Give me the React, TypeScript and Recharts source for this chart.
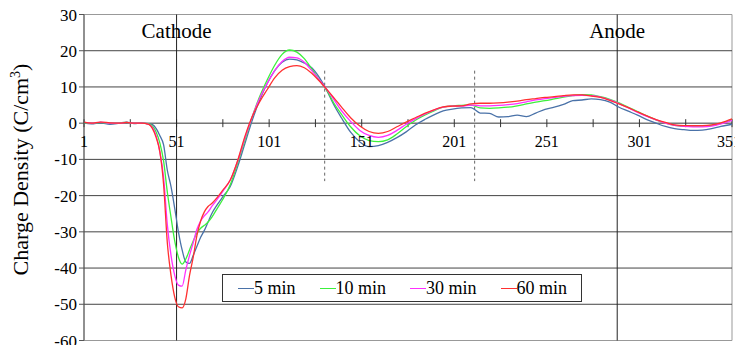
import { LineChart, Line, XAxis, YAxis, ReferenceLine, ReferenceDot, ReferenceArea } from "recharts"

const FONT = "Liberation Serif, Times New Roman, serif"

// position along the cell (1..351)
const xPos = [
  1, 5, 10, 15, 20, 24, 28, 32, 36, 38, 40, 42, 44, 46, 48, 50, 52, 54, 56, 58,
  60, 62, 64, 66, 68, 70, 73, 76, 80, 84, 88, 92, 96, 100, 104, 108, 112, 116, 120, 124,
  128, 132, 136, 140, 145, 150, 155, 160, 165, 170, 175, 180, 185, 190, 195, 200, 205, 210, 215, 220,
  225, 230, 235, 240, 245, 250, 255, 260, 265, 270, 275, 280, 285, 290, 295, 300, 305, 310, 315, 320,
  325, 330, 335, 340, 345, 351,
]

const min5 = [
  0, -0.2, 0.1, -0.3, 0, 0.3, -0.1, 0, -0.1, -0.4, -1.5, -3.5, -6, -13, -17.5, -23.5, -30, -35, -38.3, -38.7,
  -36.5, -34, -31.5, -29.6, -27.3, -25, -22.5, -20.3, -17.5, -12, -5.5, 1, 6.5, 11, 14.5, 16.8, 17.7, 17.5, 16.6, 15.3,
  12.7, 9.2, 5, 1.5, -2.5, -5.2, -6.5, -6.2, -5.3, -4, -2.4, -0.5, 1, 2.3, 3.4, 3.9, 4.2, 4.3, 2.8, 2.7,
  1.7, 1.8, 2.2, 1.8, 2.8, 3.8, 4.4, 5.2, 6.2, 6.4, 6.7, 6.5, 5.8, 4.4, 3.3, 2.2, 1, 0, -0.9, -1.5,
  -1.8, -2, -1.9, -1.5, -0.9, -0.3,
]

const min10 = [
  0.1, 0, 0.2, 0, 0.1, 0.2, 0, 0, -0.2, -0.8, -2.5, -5.5, -10.5, -19, -26, -32.5, -37, -38.9, -37.5, -35,
  -32.5, -30.3, -29, -28.2, -27.3, -26, -23.5, -21, -17, -11, -4.5, 2, 7.5, 12, 16, 19, 20.2, 19.6, 17.8, 15,
  12, 9.2, 5.5, 2.5, -1, -3.5, -4.8, -5.1, -4.6, -3, -1, 0.8, 2.2, 3.4, 4.4, 4.8, 4.9, 5, 4.2, 4.1,
  4.2, 4.4, 4.8, 5.3, 5.8, 6.2, 6.7, 7.2, 7.6, 7.9, 7.8, 7.3, 6.6, 5.6, 4.4, 3.2, 2, 0.9, 0, -0.6,
  -0.9, -0.9, -0.8, -0.6, -0.1, 0.9,
]

const min30 = [
  0.2, 0, 0.3, 0, 0, 0.2, 0, 0, -0.3, -1.2, -3.5, -8, -15, -28, -36.5, -42, -44.7, -45, -40.5, -36.5,
  -33, -29.3, -27, -25.6, -24.5, -23, -21, -18.8, -15.7, -10.5, -4, 2, 7, 11, 14.5, 17, 18.2, 18, 16.8, 14.5,
  12, 9.4, 6.5, 3.5, 0.5, -2, -3.4, -3.9, -3.4, -2, -0.3, 1.2, 2.5, 3.6, 4.4, 4.7, 4.7, 5, 4.8, 4.8,
  4.9, 5.1, 5.4, 5.9, 6.4, 6.8, 7.1, 7.4, 7.6, 7.7, 7.6, 7.2, 6.4, 5.4, 4.2, 3, 1.9, 0.9, 0, -0.6,
  -0.9, -1, -1, -0.8, -0.2, 0.8,
]

const min60 = [
  0.3, 0, 0.3, 0.1, 0, 0.2, 0, 0, -0.3, -1.5, -4, -8, -17, -33, -42, -48, -50.7, -51, -48.5, -42,
  -37, -31, -27, -24.5, -23, -22.2, -20.5, -18.5, -15.7, -10.3, -3.5, 2, 6, 9.3, 12.5, 14.6, 15.6, 15.9, 15.3, 13.8,
  11.7, 9.4, 7, 4.5, 1.5, -0.8, -2.3, -2.8, -2.3, -1, 0.3, 1.5, 2.7, 3.7, 4.5, 4.7, 4.8, 5.3, 5.5, 5.5,
  5.6, 5.8, 6.1, 6.5, 6.8, 7.1, 7.3, 7.6, 7.8, 7.8, 7.5, 7.1, 6.3, 5.3, 4.3, 3.1, 2, 1, 0.2, -0.5,
  -0.7, -0.7, -0.7, -0.5, 0.1, 1.2,
]

const series = [
  { key: "m5", name: "5 min", color: "#4a72a8", values: min5 },
  { key: "m10", name: "10 min", color: "#3cf03c", values: min10 },
  { key: "m30", name: "30 min", color: "#ff30ff", values: min30 },
  { key: "m60", name: "60 min", color: "#ff3030", values: min60 },
]

const yTicks = [-60, -50, -40, -30, -20, -10, 0, 10, 20, 30]
const gridValues = [-50, -40, -30, -20, -10, 10, 20]
const xTickMarks = [1, 26, 51, 76, 101, 126, 151, 176, 201, 226, 251, 276, 301, 326, 351]
const xTickLabels = [1, 51, 101, 151, 201, 251, 301, 351]
const electrodes = [
  { x: 51, name: "Cathode" },
  { x: 289, name: "Anode" },
]
const boundaries = [131, 212]
const boundarySpan = [14.5, -16]

const rows = xPos.map((x, i) => {
  const row: Record<string, number> = { x }
  series.forEach((s) => {
    row[s.key] = s.values[i]
  })
  return row
})

function YLabel({ viewBox }: any) {
  const cx = viewBox.x + 20
  const cy = viewBox.y + viewBox.height / 2 - 8
  return (
    <text
      x={cx}
      y={cy}
      transform={`rotate(-90 ${cx} ${cy})`}
      textAnchor="middle"
      fontFamily={FONT}
      fontSize={22}
      fill="#000"
    >
      Charge Density (C/cm
      <tspan dy={-8} fontSize={14}>3</tspan>
      <tspan dy={8}>)</tspan>
    </text>
  )
}

export default function App() {
  return (
    <div style={{ position: "relative", width: 735, height: 337, fontFamily: FONT }}>
      <style>{".recharts-surface{overflow:visible}"}</style>
      <LineChart width={735} height={337} data={rows} margin={{ top: 6.5, right: 11, bottom: 4.5, left: 0 }}>
        <XAxis type="number" dataKey="x" domain={[1, 351]} hide />
        <YAxis
          type="number"
          domain={[-60, 30]}
          ticks={yTicks}
          interval={0}
          width={76}
          tickSize={5}
          axisLine={{ stroke: "#555" }}
          tickLine={{ stroke: "#555" }}
          tick={{ fill: "#000", fontSize: 17, fontFamily: FONT }}
          label={YLabel}
        />
        <ReferenceArea x1={1} x2={351} y1={-60} y2={30} fill="none" stroke="#999" />
        {gridValues.map((v) => (
          <ReferenceLine key={`g${v}`} y={v} stroke="#444" />
        ))}
        <ReferenceLine y={0} stroke="#333" />
        {xTickMarks.map((t) => (
          <ReferenceLine key={`t${t}`} segment={[{ x: t, y: 1.1 }, { x: t, y: -1.1 }]} stroke="#333" />
        ))}
        {xTickLabels.map((t, i) => (
          <ReferenceDot
            key={`l${t}`}
            x={t}
            y={0}
            r={0}
            fill="none"
            stroke="none"
            label={{
              value: String(t),
              position: "bottom",
              offset: 12,
              fontSize: 16,
              fill: "#000",
              fontFamily: FONT,
              dx: i === xTickLabels.length - 1 ? -3 : 0,
            }}
          />
        ))}
        {electrodes.map((e) => (
          <ReferenceLine
            key={e.name}
            x={e.x}
            stroke="#222"
            label={{ value: e.name, position: "insideTop", offset: 9, fontSize: 21, fill: "#000", fontFamily: FONT }}
          />
        ))}
        {boundaries.map((b) => (
          <ReferenceLine
            key={`b${b}`}
            segment={[{ x: b, y: boundarySpan[0] }, { x: b, y: boundarySpan[1] }]}
            stroke="#666"
            strokeDasharray="3 3"
          />
        ))}
        {series.map((s) => (
          <Line
            key={s.key}
            type="monotone"
            dataKey={s.key}
            name={s.name}
            stroke={s.color}
            strokeWidth={1.3}
            dot={false}
            isAnimationActive={false}
          />
        ))}
      </LineChart>
      <div
        style={{
          position: "absolute",
          left: 214,
          top: 266,
          height: 26,
          border: "1px solid #333",
          background: "#fff",
          display: "flex",
          alignItems: "center",
          gap: 24,
          padding: "0 14px 0 15px",
          fontSize: 18,
          whiteSpace: "nowrap",
        }}
      >
        {series.map((s) => (
          <div key={s.key} style={{ display: "flex", alignItems: "center" }}>
            <span style={{ display: "inline-block", width: 16, height: 0, borderTop: `1.5px solid ${s.color}` }} />
            <span>{s.name}</span>
          </div>
        ))}
      </div>
    </div>
  )
}
